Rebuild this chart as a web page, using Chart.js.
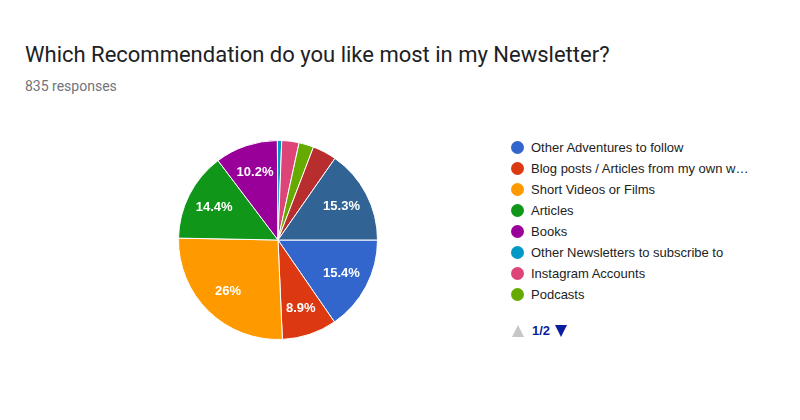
<!DOCTYPE html>
<html>
<head>
<meta charset="utf-8">
<script src="https://cdn.jsdelivr.net/npm/chart.js@4"></script>
<style>
  html, body { margin: 0; padding: 0; background: #fff; }
  #page { position: relative; width: 800px; height: 420px; overflow: hidden; }
  #title { position: absolute; left: 25px; top: 42px; font: 22px Roboto, Arial, sans-serif; color: #202124; white-space: nowrap; }
  #subtitle { position: absolute; left: 25px; top: 78px; font: 14px Roboto, Arial, sans-serif; color: #70757a; }
  #pie-box { position: absolute; left: 178px; top: 140px; width: 200px; height: 200px; }
  #legend { position: absolute; left: 511px; top: 137px; font: 13px "Liberation Sans", Arial, sans-serif; color: #222; }
  .item { height: 21px; line-height: 21px; white-space: nowrap; position: relative; padding-left: 20px; }
  .dot { position: absolute; left: 0; top: 4px; width: 13px; height: 13px; border-radius: 50%; }
  #pager { position: absolute; left: 512px; top: 323px; height: 16px; font: bold 13px "Liberation Sans", Arial, sans-serif; color: #0b1f9e; white-space: nowrap; }
  #pager span { position: absolute; top: 0; }
  .tri { width: 0; height: 0; border-left: 6.5px solid transparent; border-right: 6.5px solid transparent; }
  .up { left: 0; top: 2px !important; border-bottom: 12px solid #c6c6c6; }
  .down { left: 43px; top: 2px !important; border-top: 12px solid #0b1f9e; }
  .page-num { left: 20px; line-height: 16px; }
</style>
</head>
<body>
<div id="page">
  <div id="title">Which Recommendation do you like most in my Newsletter?</div>
  <div id="subtitle">835 responses</div>
  <div id="pie-box"><canvas id="pie"></canvas></div>
  <div id="legend"></div>
  <div id="pager"><span class="tri up"></span><span class="page-num">1/2</span><span class="tri down"></span></div>
</div>
<script>
// answer options (last two are on page 2 of the legend, not readable)
const categories = [
  'Other Adventures to follow',
  'Blog posts / Articles from my own website',
  'Short Videos or Films',
  'Articles',
  'Books',
  'Other Newsletters to subscribe to',
  'Instagram Accounts',
  'Podcasts',
  'Option 9',
  'Option 10'
];
// share of responses, percent
const shares = [15.4, 8.9, 26, 14.4, 10.2, 0.7, 2.8, 2.4, 3.9, 15.3];
const colors = ['#3366cc', '#dc3912', '#ff9900', '#109618', '#990099',
                '#0099c6', '#dd4477', '#66aa00', '#b82e2e', '#316395'];
const legendPageSize = 8;

// --- legend (first page only, like the original) ---
const legend = document.getElementById('legend');
categories.slice(0, legendPageSize).forEach((name, i) => {
  const row = document.createElement('div');
  row.className = 'item';
  const label = name.length > 36 ? name.slice(0, 35) + '…' : name;
  row.innerHTML = `<span class="dot" style="background:${colors[i]}"></span>${label}`;
  legend.appendChild(row);
});

// --- percentage labels inside the slices ---
const sliceLabels = {
  id: 'sliceLabels',
  afterDatasetsDraw(chart) {
    const ctx = chart.ctx;
    const meta = chart.getDatasetMeta(0);
    ctx.save();
    ctx.font = 'bold 13px "Liberation Sans", Arial, sans-serif';
    ctx.fillStyle = '#fff';
    ctx.textAlign = 'center';
    ctx.textBaseline = 'middle';
    meta.data.forEach((arc, i) => {
      const v = shares[i];
      if (v < 5) return;
      const mid = (arc.startAngle + arc.endAngle) / 2;
      const r = arc.outerRadius * 0.72;
      ctx.fillText(v + '%', arc.x + Math.cos(mid) * r, arc.y + Math.sin(mid) * r);
    });
    ctx.restore();
  }
};

new Chart(document.getElementById('pie'), {
  type: 'pie',
  data: {
    labels: categories,
    datasets: [{
      data: shares,
      backgroundColor: colors,
      borderColor: '#fff',
      borderWidth: 1
    }]
  },
  options: {
    responsive: true,
    maintainAspectRatio: false,
    animation: false,
    rotation: 90,
    plugins: {
      legend: { display: false },
      tooltip: { enabled: false }
    }
  },
  plugins: [sliceLabels]
});
</script>
</body>
</html>
